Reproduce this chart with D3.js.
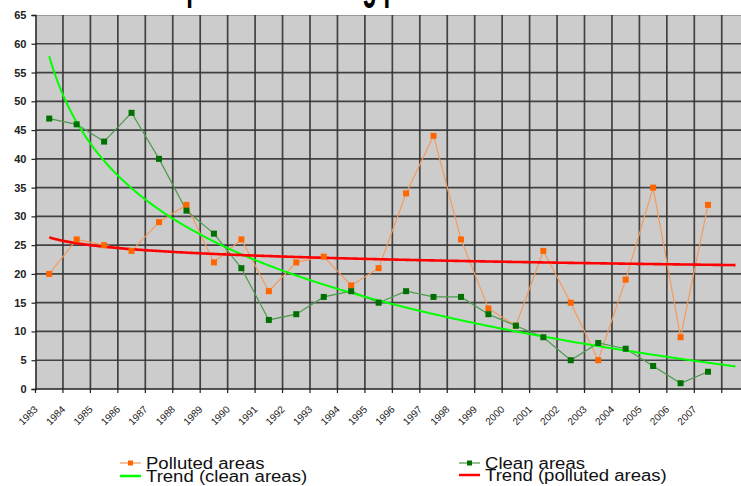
<!DOCTYPE html>
<html><head><meta charset="utf-8">
<script src="https://cdn.jsdelivr.net/npm/d3@7"></script>
<style>
body{margin:0;background:#fff;overflow:hidden}
svg{display:block}
text{font-family:"Liberation Sans",Arial,sans-serif}
</style>
</head><body>
<svg id="chart" width="741" height="486"></svg>
<script>
// ---- data ----
const years = [1983,1984,1985,1986,1987,1988,1989,1990,1991,1992,1993,1994,1995,1996,1997,1998,1999,2000,2001,2002,2003,2004,2005,2006,2007];
const forecastSlots = [2008]; // trend forecast one period forward (no label)
const polluted = [20,26,25,24,29,32,22,26,17,22,23,18,21,34,44,26,14,11,24,15,5,19,35,9,32];
const clean    = [47,46,43,48,40,31,27,21,12,13,16,17,15,17,16,16,13,11,9,5,8,7,4,1,3];
const yTicks = [0,5,10,15,20,25,30,35,40,45,50,55,60,65];
const titleText = "Trend of sample counts along polluted and clean areas";
const legendLabels = ["Polluted areas","Clean areas","Trend (clean areas)","Trend (polluted areas)"];

// ---- layout ----
const svg = d3.select("#chart");
const pL = 35.5, pT = 15, pB = 389, band = 27.45, pR = 760;
const allSlots = years.concat(forecastSlots);
const x = d3.scaleBand().domain(allSlots).range([pL, pL + band*allSlots.length]).padding(0);
const y = d3.scaleLinear().domain([0,65]).range([pB, pT]);
const cx = d => x(d) + x.bandwidth()/2;

// title (cut off by the top edge, as in the reference)
svg.append("text").attr("x",37).attr("y",-2)
  .attr("transform","translate(37,0) scale(0.48,1) translate(-37,0)")
  .attr("font-size",50).attr("font-weight","bold").attr("fill","#000").text(titleText);

// plot background
svg.append("rect").attr("x",pL).attr("y",pT).attr("width",pR-pL).attr("height",pB-pT).attr("fill","#cccccc");
svg.append("line").attr("x1",pL).attr("x2",pR).attr("y1",pT+0.5).attr("y2",pT+0.5).attr("stroke","#9a9a9a").attr("stroke-width",1);

// horizontal gridlines
svg.append("g").selectAll("line").data(yTicks.filter(t=>t>0 && t<65)).join("line")
  .attr("x1",pL).attr("x2",pR).attr("y1",d=>y(d)).attr("y2",d=>y(d))
  .attr("stroke","#333").attr("stroke-width",1.7).attr("stroke-opacity",0.9);
// vertical gridlines at category boundaries
svg.append("g").selectAll("line").data(allSlots.slice(1)).join("line")
  .attr("x1",d=>x(d)).attr("x2",d=>x(d)).attr("y1",pT).attr("y2",pB)
  .attr("stroke","#333").attr("stroke-width",1.7).attr("stroke-opacity",0.9);

// y axis
const yAxis = d3.axisLeft(y).tickValues(yTicks).tickSize(4).tickPadding(5);
const gy = svg.append("g").attr("transform",`translate(${pL},0)`).call(yAxis);
gy.select(".domain").attr("stroke","#222").attr("stroke-width",1.5);
gy.selectAll(".tick line").attr("stroke","#222").attr("stroke-width",1.2);
gy.selectAll(".tick text").attr("font-size",11).attr("font-weight","bold").attr("fill","#222")
  .attr("font-family","'Liberation Sans',Arial,sans-serif");

// x axis
const gx = svg.append("g").attr("transform",`translate(0,${pB})`);
gx.append("line").attr("x1",pL).attr("x2",pR).attr("y1",0).attr("y2",0).attr("stroke","#222").attr("stroke-width",1.5);
gx.selectAll("line.t").data(allSlots.concat(["end"])).join("line").attr("class","t")
  .attr("x1",(d,i)=>pL+i*band).attr("x2",(d,i)=>pL+i*band).attr("y1",0).attr("y2",4)
  .attr("stroke","#222").attr("stroke-width",1.2);
gx.selectAll("text").data(years).join("text")
  .attr("transform",d=>`translate(${x(d)+3},${21}) rotate(-45)`)
  .attr("text-anchor","end").attr("font-size",10).attr("fill","#222").text(d=>d);

// ---- log trend lines (least squares, y = a + b ln(i)) ----
function logFit(vals){
  const n = vals.length;
  const L = vals.map((v,i)=>Math.log(i+1));
  const mL = d3.mean(L), mY = d3.mean(vals);
  let sxy=0,sxx=0;
  for(let i=0;i<n;i++){sxy+=(L[i]-mL)*(vals[i]-mY);sxx+=(L[i]-mL)**2;}
  const b = sxy/sxx, a = mY - b*mL;
  return t => a + b*Math.log(t);
}
const tPix = d3.scaleLinear().domain([1, allSlots.length]).range([cx(allSlots[0]), cx(allSlots[allSlots.length-1])]);
const tSamples = d3.range(1, allSlots.length+0.001, 0.05);
const cleanTrend = logFit(clean), pollTrend = logFit(polluted);
const trendLine = f => d3.line().x(t=>tPix(t)).y(t=>y(f(t)))(tSamples);

// series lines
const line = d3.line().x((d,i)=>cx(years[i])).y(d=>y(d));
svg.append("path").attr("d",line(polluted)).attr("fill","none").attr("stroke","#f59a5c").attr("stroke-width",1.2);
svg.append("path").attr("d",line(clean)).attr("fill","none").attr("stroke","#4e9a4e").attr("stroke-width",1.2);

// trends
svg.append("path").attr("d",trendLine(cleanTrend)).attr("fill","none").attr("stroke","#00ff00").attr("stroke-width",2);
svg.append("path").attr("d",trendLine(pollTrend)).attr("fill","none").attr("stroke","#ff0000").attr("stroke-width",2.6);

// markers
svg.append("g").selectAll("rect").data(polluted).join("rect")
  .attr("x",(d,i)=>cx(years[i])-3).attr("y",d=>y(d)-3).attr("width",6).attr("height",6).attr("fill","#ff6600");
svg.append("g").selectAll("rect").data(clean).join("rect")
  .attr("x",(d,i)=>cx(years[i])-3).attr("y",d=>y(d)-3).attr("width",6).attr("height",6).attr("fill","#007000");

// legend
const lg = svg.append("g");
const items = [
  {x:120, y:463, label:legendLabels[0], stroke:"#f59a5c", w:1.2, marker:"#ff6600"},
  {x:459, y:463, label:legendLabels[1], stroke:"#4e9a4e", w:1.2, marker:"#007000"},
  {x:120, y:476, label:legendLabels[2], stroke:"#00ff00", w:2.5, marker:null},
  {x:459, y:475, label:legendLabels[3], stroke:"#ff0000", w:2.5, marker:null}
];
items.forEach(it=>{
  lg.append("line").attr("x1",it.x).attr("x2",it.x+21).attr("y1",it.y).attr("y2",it.y).attr("stroke",it.stroke).attr("stroke-width",it.w);
  if(it.marker) lg.append("rect").attr("x",it.x+8).attr("y",it.y-2.5).attr("width",5).attr("height",5).attr("fill",it.marker);
  const tx = it.x+26;
  lg.append("text").attr("x",tx).attr("y",it.y+6)
    .attr("transform",`translate(${tx},0) scale(1.16,1) translate(${-tx},0)`)
    .attr("font-size",16).attr("fill","#111").text(it.label);
});
</script>
</body></html>
